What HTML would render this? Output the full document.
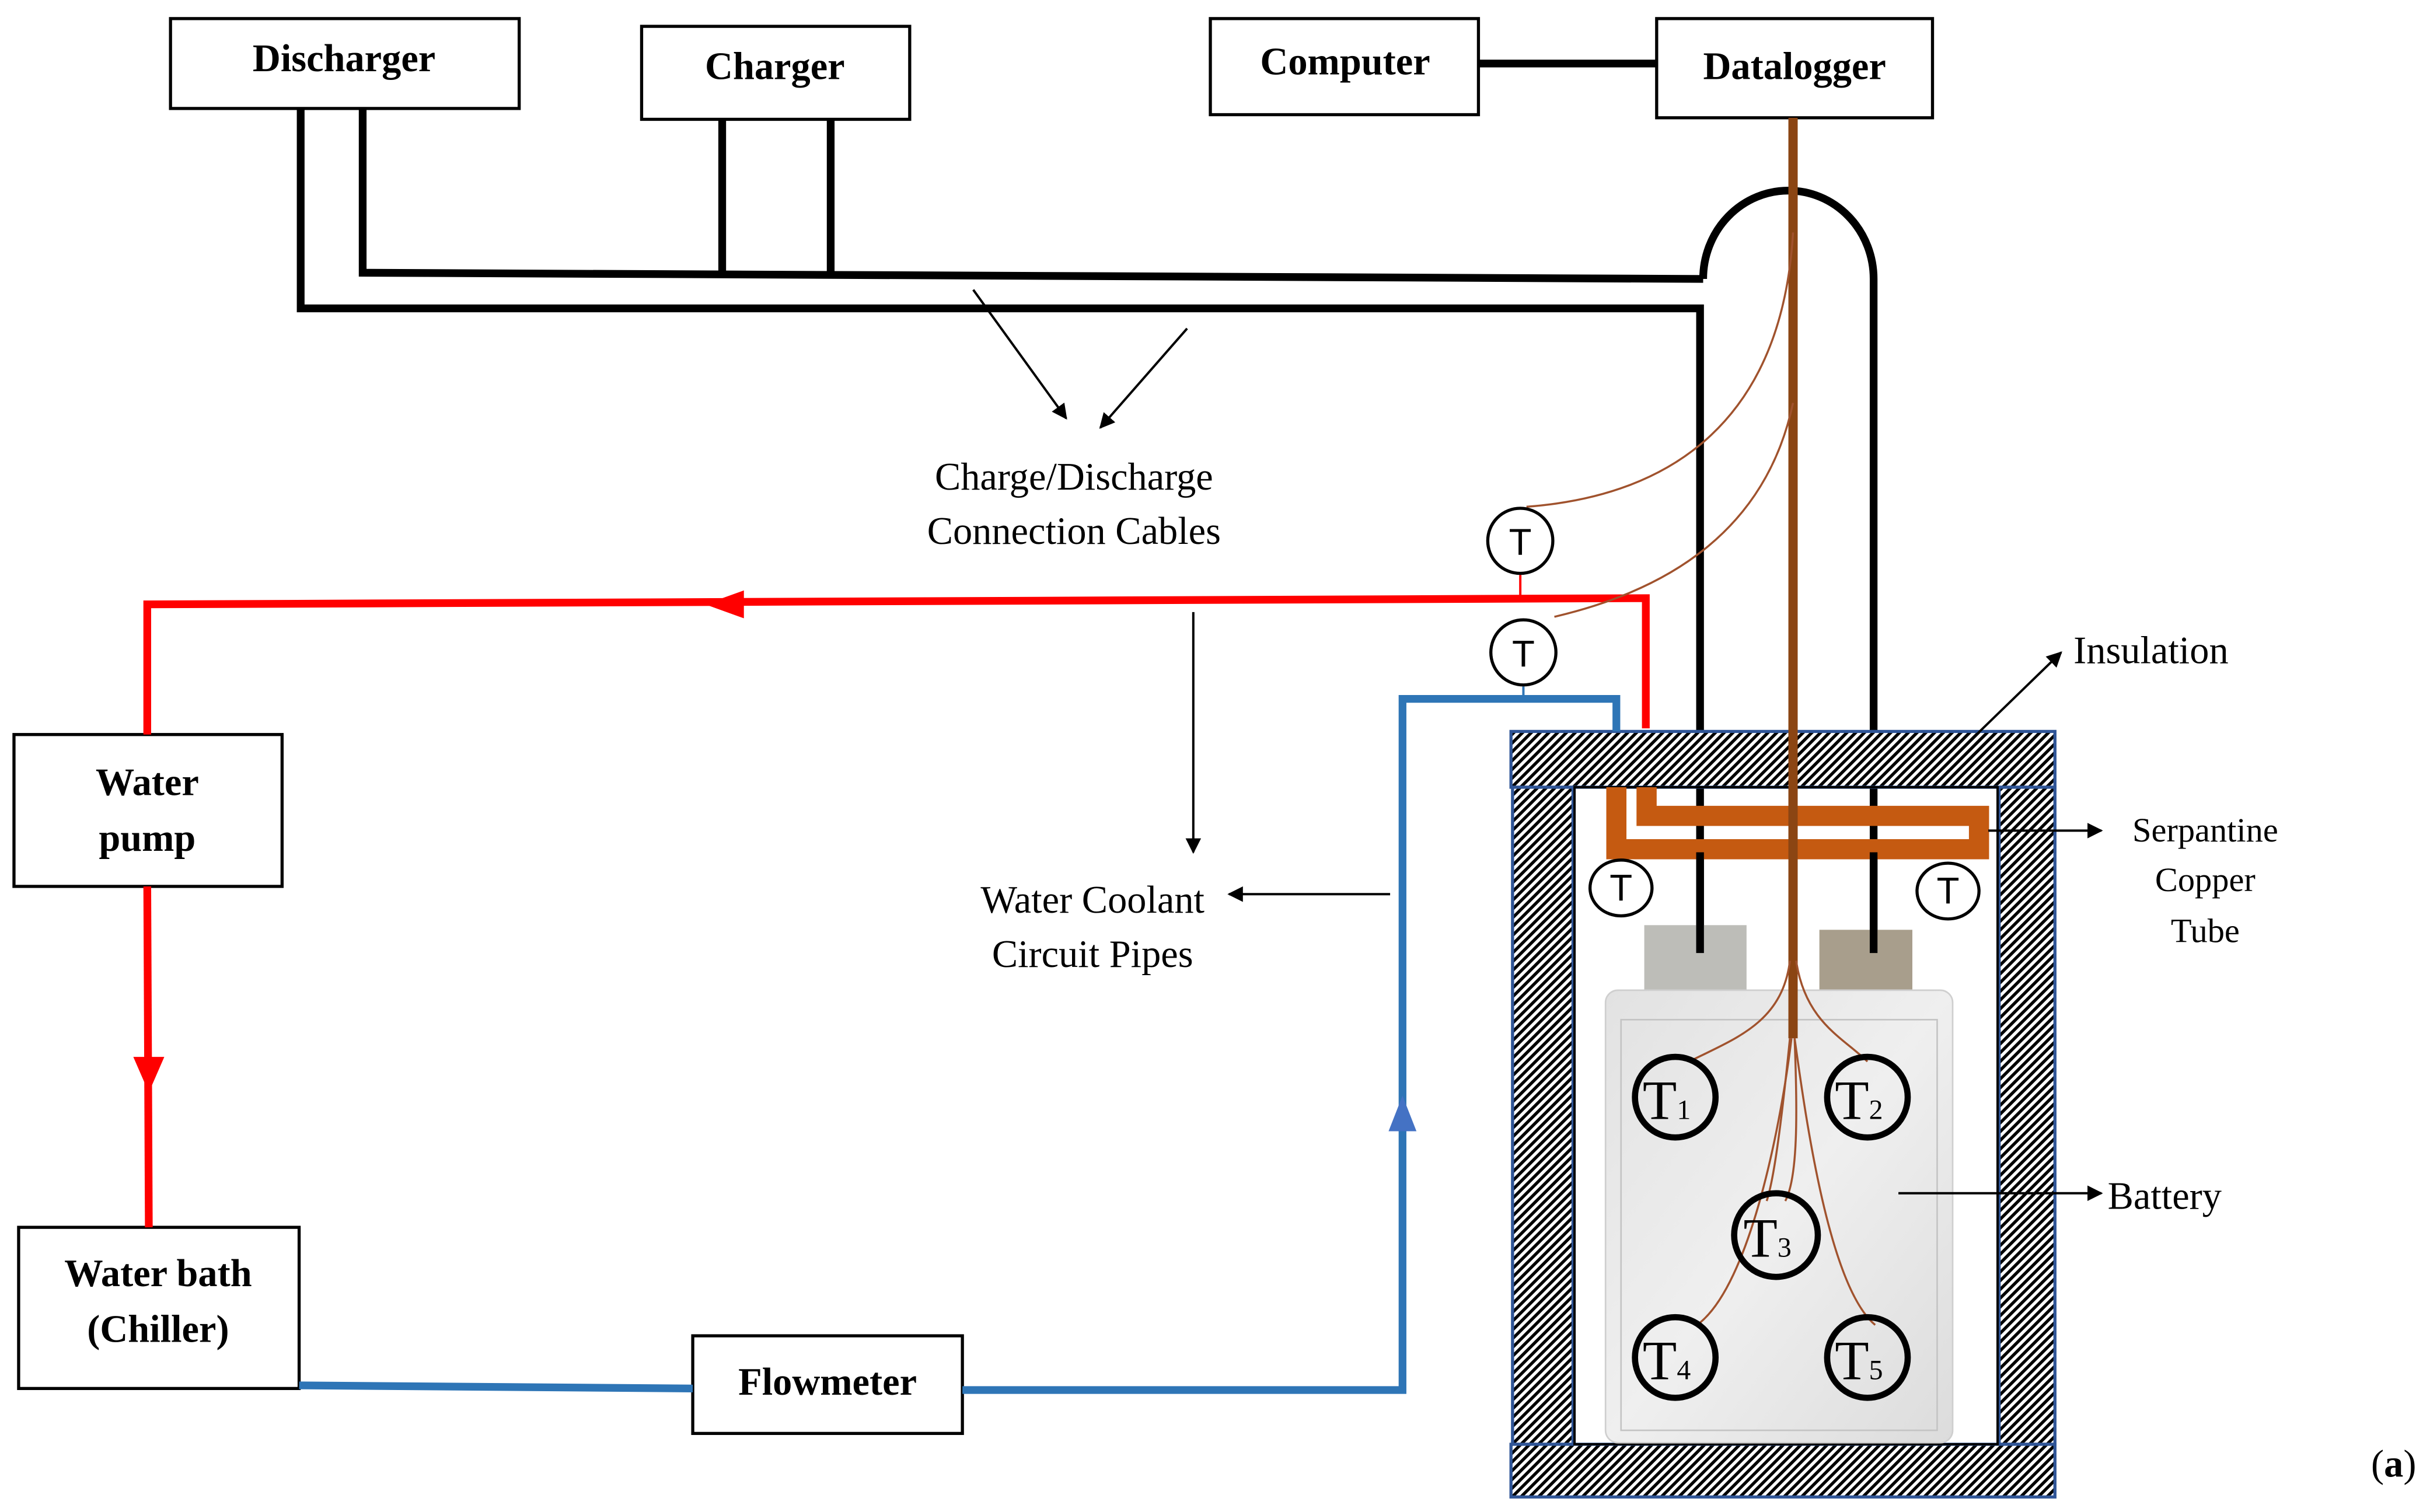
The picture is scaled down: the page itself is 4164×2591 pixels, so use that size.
<!DOCTYPE html>
<html><head><meta charset="utf-8"><style>
html,body{margin:0;padding:0;background:#fff}
svg{display:block}
.b{font-family:"Liberation Serif",serif;font-weight:bold;font-size:25px}
.r{font-family:"Liberation Serif",serif;font-size:25px}
.s{font-family:"Liberation Sans",sans-serif;font-size:24px}
</style></head><body>
<svg width="4164" height="2591" viewBox="0 0 1568 975.7" xmlns="http://www.w3.org/2000/svg">
<defs>
<pattern id="h" patternUnits="userSpaceOnUse" width="4" height="4" patternTransform="rotate(45)">
<rect width="4" height="4" fill="#fff"/><rect width="2" height="4" fill="#000"/></pattern>
<marker id="a" markerWidth="10" markerHeight="10" refX="9" refY="5" orient="auto" markerUnits="userSpaceOnUse"><path d="M0,0 L10,5 L0,10 z" fill="#000"/></marker>
<linearGradient id="bg" x1="0" y1="0" x2="1" y2="1"><stop offset="0" stop-color="#e2e2e2"/><stop offset="0.5" stop-color="#efefef"/><stop offset="1" stop-color="#dcdcdc"/></linearGradient>
</defs>
<rect width="1568" height="976" fill="#fff"/>
<g fill="#fff" stroke="#000" stroke-width="2">
<rect x="110" y="12" width="225" height="58"/>
<rect x="414" y="17" width="173" height="60"/>
<rect x="781" y="12" width="173" height="62"/>
<rect x="1069" y="12" width="178" height="64"/>
<rect x="9" y="474" width="173" height="98"/>
<rect x="12" y="792" width="181" height="104"/>
<rect x="447" y="862" width="174" height="63"/>
</g>
<text class="b" x="222" y="46" text-anchor="middle">Discharger</text>
<text class="b" x="500" y="51" text-anchor="middle">Charger</text>
<text class="b" x="868" y="48" text-anchor="middle">Computer</text>
<text class="b" x="1158" y="51" text-anchor="middle">Datalogger</text>
<text class="b" x="95" y="513" text-anchor="middle">Water</text>
<text class="b" x="95" y="549" text-anchor="middle">pump</text>
<text class="b" x="102" y="830" text-anchor="middle">Water bath</text>
<text class="b" x="102" y="866" text-anchor="middle">(Chiller)</text>
<text class="b" x="534" y="900" text-anchor="middle">Flowmeter</text>
<g fill="none" stroke="#000" stroke-width="5">
<line x1="954" y1="41" x2="1069" y2="41"/>
<polyline points="194,70 194,199 1097,199 1097,615"/>
<polyline points="234,70 234,176 1099,180"/>
<line x1="466" y1="77" x2="466" y2="176"/>
<line x1="536" y1="77" x2="536" y2="176"/>
<path d="M1099,180 A55,57 0 0 1 1209,180 L1209,615"/>
</g>
<g stroke="#2f5597" stroke-width="2">
<rect x="975" y="472" width="351" height="36" fill="url(#h)"/>
<rect x="976" y="508" width="39" height="424" fill="url(#h)"/>
<rect x="1290" y="508" width="36" height="424" fill="url(#h)"/>
<rect x="975" y="932" width="351" height="34" fill="url(#h)"/>
</g>
<rect x="1016" y="508" width="273" height="424" fill="none" stroke="#000" stroke-width="1.5"/>
<g fill="none" stroke="#ff0000" stroke-width="5">
<polyline points="1062,470 1062,386 95,390 95,474"/>
<line x1="95" y1="572" x2="96" y2="792"/>
</g>
<line x1="981" y1="371" x2="981" y2="388" stroke="#ff0000" stroke-width="1.5"/>
<path d="M455,390 L480,381 L480,399 z" fill="#ff0000"/>
<path d="M96,705 L86,682 L106,682 z" fill="#ff0000"/>
<g fill="none" stroke="#2e75b6" stroke-width="5">
<line x1="193" y1="894" x2="447" y2="896"/>
<polyline points="621,897 905,897 905,451 1043,451 1043,472"/>
</g>
<line x1="983" y1="443" x2="983" y2="451" stroke="#2e75b6" stroke-width="1.5"/>
<path d="M905,707 L896,730 L914,730 z" fill="#4472c4"/>
<g fill="none" stroke="#c55a11" stroke-width="13">
<polyline points="1043,508 1043,548 1277,548 1277,526.5 1062.5,526.5 1062.5,508"/>
</g>
<rect x="1061" y="597" width="66" height="43" fill="#bdbdb8"/>
<rect x="1174" y="600" width="60" height="40" fill="#a89e8c"/>
<rect x="1036" y="639" width="224" height="292" rx="8" fill="url(#bg)" stroke="#cfcfcf"/>
<rect x="1046" y="658" width="204" height="265" fill="none" stroke="#c4c4c4" stroke-width="1"/>
<g stroke="#000" stroke-width="5"><line x1="1097" y1="550" x2="1097" y2="615"/><line x1="1209" y1="550" x2="1209" y2="615"/></g>
<line x1="1157" y1="76" x2="1157" y2="670" stroke="#8b4513" stroke-width="6"/>
<g fill="none" stroke="#a0522d" stroke-width="1.3">
<path d="M1157,150 C1150,270 1080,320 985,327"/>
<path d="M1157,260 C1140,340 1080,380 1003,398"/>
<path d="M1155,620 C1150,660 1120,670 1090,685"/>
<path d="M1159,620 C1165,660 1190,670 1205,685"/>
<path d="M1156,670 C1150,720 1130,830 1095,855"/>
<path d="M1158,670 C1165,720 1180,830 1210,855"/>
<path d="M1155,670 C1150,720 1145,760 1140,775"/>
<path d="M1158,670 C1160,720 1160,760 1152,775"/>
</g>
<g fill="#fff" stroke="#000" stroke-width="2">
<circle cx="981" cy="349" r="21"/>
<circle cx="983" cy="421" r="21"/>
<ellipse cx="1046" cy="573" rx="20" ry="18"/>
<ellipse cx="1257" cy="575" rx="20" ry="18"/>
</g>
<text class="s" x="981" y="358" text-anchor="middle">T</text>
<text class="s" x="983" y="430" text-anchor="middle">T</text>
<text class="s" x="1046" y="581" text-anchor="middle">T</text>
<text class="s" x="1257" y="583" text-anchor="middle">T</text>
<g fill="none" stroke="#000" stroke-width="4">
<circle cx="1081" cy="708" r="26"/><circle cx="1205" cy="708" r="26"/>
<circle cx="1146" cy="797" r="27"/><circle cx="1081" cy="876" r="26"/><circle cx="1205" cy="876" r="26"/>
</g>
<g class="r" style="font-size:36px">
<text x="1060" y="722">T<tspan font-size="18">1</tspan></text>
<text x="1184" y="722">T<tspan font-size="18">2</tspan></text>
<text x="1125" y="811">T<tspan font-size="18">3</tspan></text>
<text x="1060" y="890">T<tspan font-size="18">4</tspan></text>
<text x="1184" y="890">T<tspan font-size="18">5</tspan></text>
</g>
<g stroke="#000" stroke-width="1.5" marker-end="url(#a)">
<line x1="628" y1="187" x2="688" y2="270"/>
<line x1="766" y1="212" x2="710" y2="276"/>
<line x1="770" y1="395" x2="770" y2="550"/>
<line x1="897" y1="577" x2="793" y2="577"/>
<line x1="1262" y1="487" x2="1330" y2="421"/>
<line x1="1283" y1="536" x2="1356" y2="536"/>
<line x1="1225" y1="770" x2="1356" y2="770"/>
</g>
<text class="r" x="693" y="316" text-anchor="middle">Charge/Discharge</text>
<text class="r" x="693" y="351" text-anchor="middle">Connection Cables</text>
<text class="r" x="705" y="589" text-anchor="middle">Water Coolant</text>
<text class="r" x="705" y="624" text-anchor="middle">Circuit Pipes</text>
<text class="r" x="1338" y="428">Insulation</text>
<text class="r" x="1423" y="543" text-anchor="middle" style="font-size:22px">Serpantine</text>
<text class="r" x="1423" y="575" text-anchor="middle" style="font-size:22px">Copper</text>
<text class="r" x="1423" y="608" text-anchor="middle" style="font-size:22px">Tube</text>
<text class="r" x="1360" y="780">Battery</text>
<text class="r" x="1530" y="953"><tspan>(</tspan><tspan font-weight="bold">a</tspan><tspan>)</tspan></text>
</svg>
</body></html>
